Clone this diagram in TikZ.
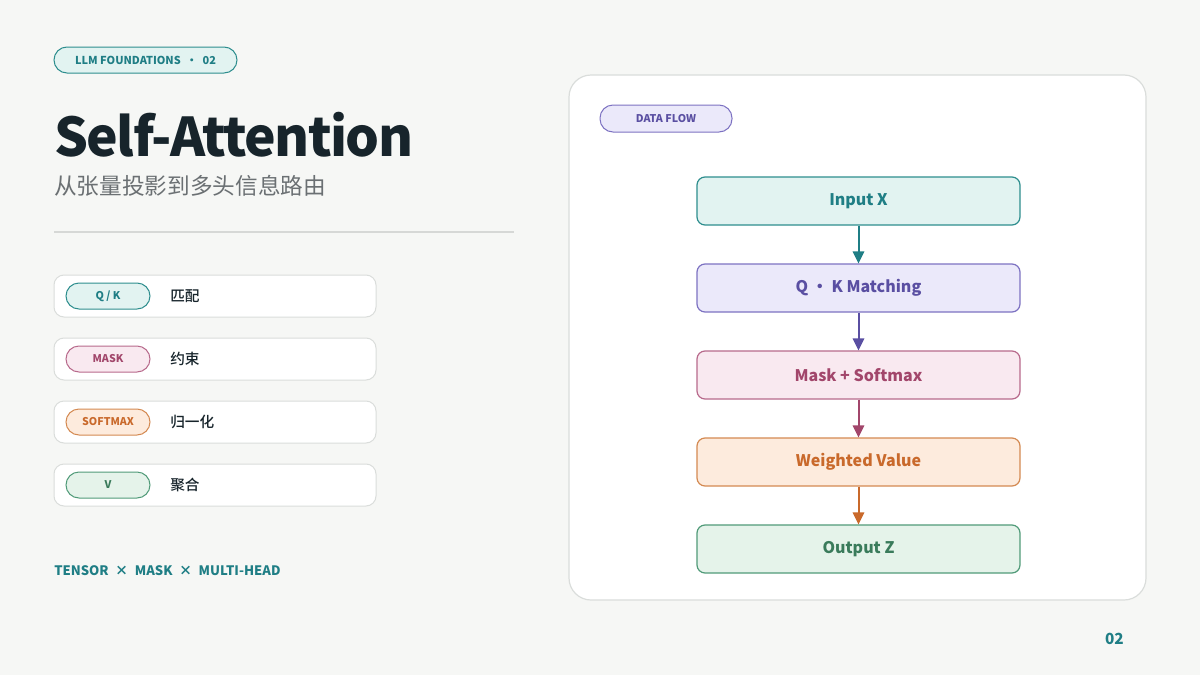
\documentclass[tikz,border=0pt]{standalone}
\usepackage{fontspec}
\setmainfont{Noto Sans CJK SC}
\newfontfamily\midfont{Noto Sans CJK SC Medium}
\usetikzlibrary{arrows.meta,positioning}

\definecolor{bgcol}{HTML}{F6F7F5}
\definecolor{ink}{HTML}{17242B}
\definecolor{subgray}{HTML}{6B7073}
\definecolor{rulegray}{HTML}{D6D8D6}
\definecolor{cardline}{HTML}{DADDDB}
\definecolor{tealc}{HTML}{2E8E8E}
\definecolor{tealf}{HTML}{E2F3F1}
\definecolor{tealt}{HTML}{1F7E85}
\definecolor{purc}{HTML}{7D72C2}
\definecolor{purf}{HTML}{EBE9FA}
\definecolor{purt}{HTML}{5A4FA2}
\definecolor{pinkc}{HTML}{B86A8C}
\definecolor{pinkf}{HTML}{F9E9F0}
\definecolor{pinkt}{HTML}{A2466B}
\definecolor{orc}{HTML}{D48A52}
\definecolor{orf}{HTML}{FDEBDD}
\definecolor{ort}{HTML}{C9692B}
\definecolor{grc}{HTML}{519B79}
\definecolor{grf}{HTML}{E5F3EA}
\definecolor{grt}{HTML}{3A7B5B}

\tikzset{
  flowbox/.style={draw, line width=0.9pt, rounded corners=6pt, minimum width=242.25pt, minimum height=36pt, font=\fontsize{12}{14}\selectfont\bfseries},
  pill/.style={draw, line width=0.75pt, rounded corners=9.75pt, minimum height=19.5pt, inner sep=0pt, font=\fontsize{8}{10}\selectfont\bfseries},
  card/.style={draw=cardline, fill=white, line width=0.75pt, rounded corners=7.5pt, minimum width=241.5pt, minimum height=31.5pt},
  legtext/.style={anchor=west, inner sep=0pt, text=ink, font=\fontsize{11}{13}\selectfont\midfont},
  arr/.style={line width=1.5pt, -{Triangle[width=8.5pt,length=9pt]}}
}

\begin{document}
\begin{tikzpicture}[x=0.75pt, y=-0.75pt, node distance=65.25pt]
  % page
  \fill[bgcol] (0,0) rectangle (1200,675);
  \useasboundingbox (0,0) rectangle (1200,675);

  % left column
  \node[pill, draw=tealc, fill=tealf, text=tealt, minimum width=137.25pt, font=\fontsize{8.2}{10}\selectfont\bfseries] (B) at (145.5,60) {LLM FOUNDATIONS\enspace•\enspace02};
  \node[anchor=base west, inner sep=0pt, text=ink, font=\fontsize{40}{46}\selectfont\bfseries\addfontfeature{LetterSpace=-3}] (T) at (54,156) {Self-Attention};
  \node[anchor=base west, inner sep=0pt, text=subgray, font=\fontsize{17}{20}\selectfont] (S) at (54,194) {从张量投影到多头信息路由};
  \draw[rulegray, line width=0.9pt] (54,232) -- (514,232);

  \node[card] (C1) at (215,296) {};
  \node[card] (C2) at (215,359) {};
  \node[card] (C3) at (215,422) {};
  \node[card] (C4) at (215,485) {};
  \node[pill, draw=tealc, fill=tealf, text=tealt, minimum width=63pt] (L1) at (108,296) {Q / K};
  \node[pill, draw=pinkc, fill=pinkf, text=pinkt, minimum width=63pt] (L2) at (108,359) {MASK};
  \node[pill, draw=orc, fill=orf, text=ort, minimum width=63pt] (L3) at (108,422) {SOFTMAX};
  \node[pill, draw=grc, fill=grf, text=grt, minimum width=63pt] (L4) at (108,485) {V};
  \node[legtext] (D1) at (170,296) {匹配};
  \node[legtext] (D2) at (170,359) {约束};
  \node[legtext] (D3) at (170,422) {归一化};
  \node[legtext] (D4) at (170,485) {聚合};

  \node[anchor=base west, inner sep=0pt, text=tealt, font=\fontsize{9.8}{12}\selectfont\bfseries] (F) at (54,575) {TENSOR\enspace×\enspace MASK\enspace×\enspace MULTI-HEAD};
  \node[anchor=base east, inner sep=0pt, text=tealt, font=\fontsize{11.5}{13}\selectfont\bfseries] (N) at (1124,644) {02};

  % right panel
  \node[draw=cardline, fill=white, line width=0.9pt, rounded corners=16.5pt, minimum width=432.75pt, minimum height=393.75pt] (P) at (857.5,337.5) {};
  \node[pill, draw=purc, fill=purf, text=purt, minimum width=99pt, minimum height=20.25pt] (DF) at (666,118.5) {DATA FLOW};

  \node[flowbox, draw=tealc, fill=tealf, text=tealt] (X) at (858.5,201) {Input X};
  \node[flowbox, draw=purc, fill=purf, text=purt, below of=X] (QK) {Q • K Matching};
  \node[flowbox, draw=pinkc, fill=pinkf, text=pinkt, below of=QK] (M) {Mask + Softmax};
  \node[flowbox, draw=orc, fill=orf, text=ort, below of=M] (W) {Weighted Value};
  \node[flowbox, draw=grc, fill=grf, text=grt, below of=W] (Z) {Output Z};

  \draw[arr, tealt] (X) -- (QK);
  \draw[arr, purt] (QK) -- (M);
  \draw[arr, pinkt] (M) -- (W);
  \draw[arr, ort] (W) -- (Z);
\end{tikzpicture}
\end{document}
